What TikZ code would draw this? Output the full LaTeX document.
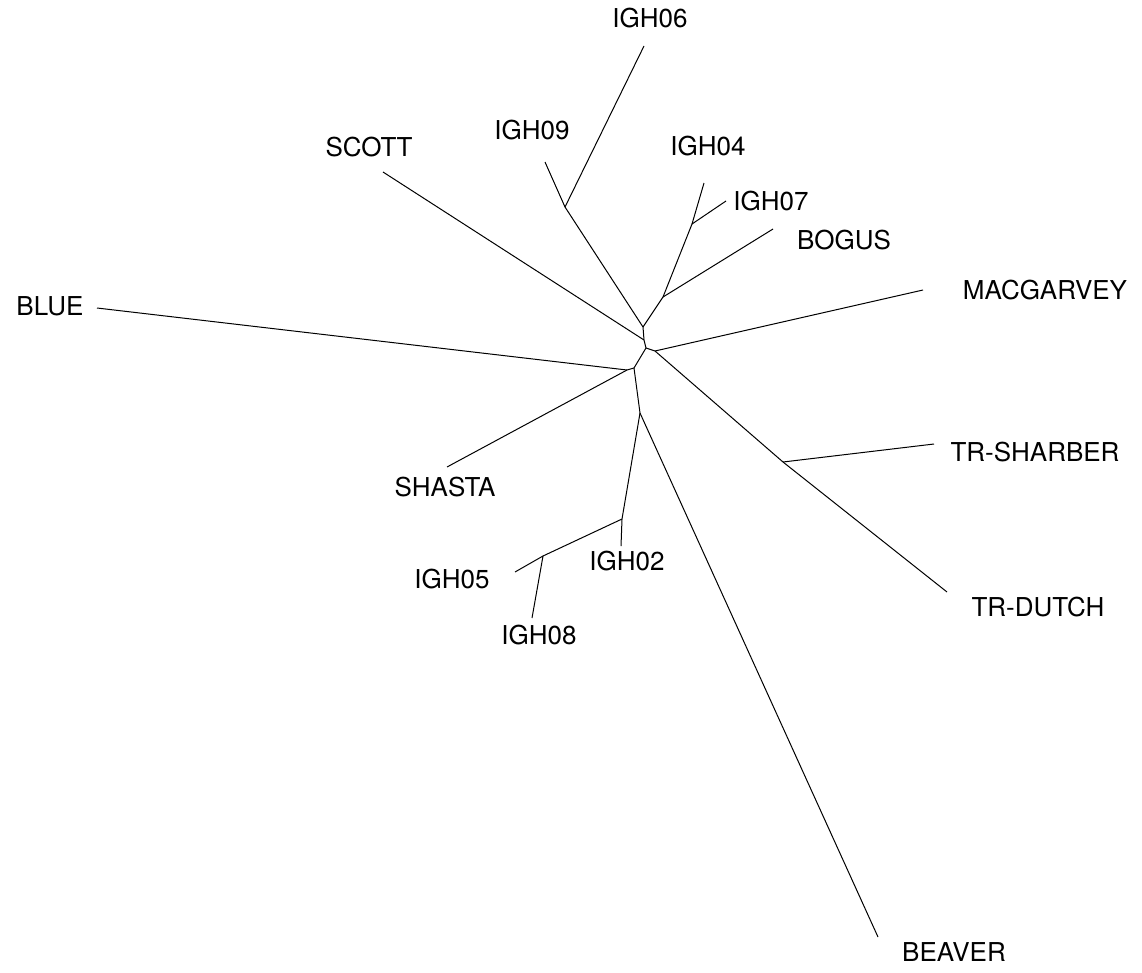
\documentclass[tikz,border=0pt]{standalone}
\usepackage{fontspec}
\setmainfont{TeX Gyre Heros}
\begin{document}
\begin{tikzpicture}[x=1pt,y=-1pt,
  branch/.style={draw=black,line width=1pt},
  taxon/.style={font=\fontsize{26}{30}\selectfont,inner sep=0pt,anchor=center}]
\useasboundingbox (0,0) rectangle (1142,972);
% internal nodes
\coordinate (n1) at (643,327);
\coordinate (n2) at (644,340);
\coordinate (n3) at (646,348);
\coordinate (n4) at (655,351);
\coordinate (n5) at (634,368);
\coordinate (n6) at (627,370);
\coordinate (n7) at (640,413);
\coordinate (n8) at (622,519);
\coordinate (n9) at (543,556);
\coordinate (na) at (565,207);
\coordinate (nb) at (663,297);
\coordinate (nc) at (692,224);
\coordinate (nt) at (783,462);
% tips
\coordinate (tIGH06) at (644,46);
\coordinate (tIGH09) at (545,162);
\coordinate (tSCOTT) at (383,172);
\coordinate (tIGH04) at (704,183);
\coordinate (tIGH07) at (726,201);
\coordinate (tBOGUS) at (773,229);
\coordinate (tMAC) at (923,290);
\coordinate (tBLUE) at (97,308);
\coordinate (tSHAR) at (934,444);
\coordinate (tSHASTA) at (447,467);
\coordinate (tIGH02) at (621,546);
\coordinate (tIGH05) at (515,572);
\coordinate (tIGH08) at (532,618);
\coordinate (tDUTCH) at (947,592);
\coordinate (tBEAVER) at (878,937);
% labels
\node[taxon] (IGH06) at (650,18) {IGH06};
\node[taxon] (IGH09) at (532,130) {IGH09};
\node[taxon] (SCOTT) at (369,147) {SCOTT};
\node[taxon] (IGH04) at (708,146) {IGH04};
\node[taxon] (IGH07) at (771,201) {IGH07};
\node[taxon] (BOGUS) at (844,240) {BOGUS};
\node[taxon] (MAC) at (1045,290) {MACGARVEY};
\node[taxon] (BLUE) at (50,306) {BLUE};
\node[taxon] (SHAR) at (1035,452) {TR-SHARBER};
\node[taxon] (SHASTA) at (445,487) {SHASTA};
\node[taxon] (IGH02) at (627,561) {IGH02};
\node[taxon] (IGH05) at (452,579) {IGH05};
\node[taxon] (IGH08) at (539,635) {IGH08};
\node[taxon] (DUTCH) at (1038,607) {TR-DUTCH};
\node[taxon] (BEAVER) at (954,952) {BEAVER};
% branches
\path[branch] (n1) -- (n2) -- (n3) -- (n4);
\path[branch] (n3) -- (n5) -- (n6);
\path[branch] (n5) -- (n7);
\path[branch] (n1) -- (na) -- (tIGH09);
\path[branch] (na) -- (tIGH06);
\path[branch] (n1) -- (nb) -- (nc) -- (tIGH04);
\path[branch] (nc) -- (tIGH07);
\path[branch] (nb) -- (tBOGUS);
\path[branch] (n2) -- (tSCOTT);
\path[branch] (n4) -- (tMAC);
\path[branch] (n4) -- (nt) -- (tDUTCH);
\path[branch] (nt) -- (tSHAR);
\path[branch] (n6) -- (tBLUE);
\path[branch] (n6) -- (tSHASTA);
\path[branch] (n7) -- (tBEAVER);
\path[branch] (n7) -- (n8) -- (tIGH02);
\path[branch] (n8) -- (n9) -- (tIGH05);
\path[branch] (n9) -- (tIGH08);
\end{tikzpicture}
\end{document}
